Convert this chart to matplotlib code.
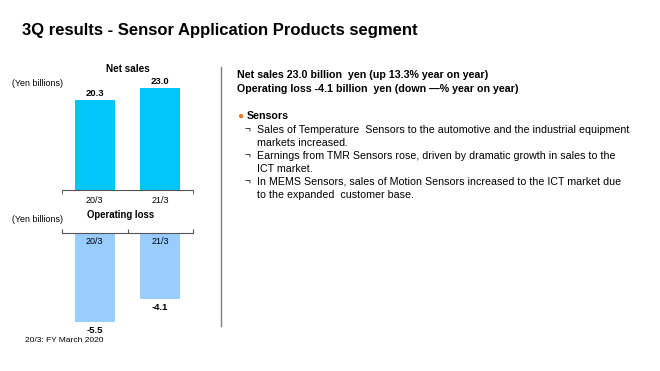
import matplotlib
matplotlib.use("Agg")
import matplotlib.pyplot as plt

plt.rcParams['font.family'] = ['Liberation Sans', 'DejaVu Sans']

periods = ["20/3", "21/3"]
net_sales = [20.3, 23.0]
op_loss = [-5.5, -4.1]

headline = ["Net sales 23.0 billion  yen (up 13.3% year on year)",
            "Operating loss -4.1 billion  yen (down \u2014% year on year)"]
bullet_title = "Sensors"
bullet_lines = [
    ("\u00ac", "Sales of Temperature  Sensors to the automotive and the industrial equipment"),
    ("", "markets increased."),
    ("\u00ac", "Earnings from TMR Sensors rose, driven by dramatic growth in sales to the"),
    ("", "ICT market."),
    ("\u00ac", "In MEMS Sensors, sales of Motion Sensors increased to the ICT market due"),
    ("", "to the expanded  customer base."),
]

W, H = 660, 371
fig = plt.figure(figsize=(6.6, 3.71), dpi=100)

def fx(px):
    return px / W

def fy(py):
    return 1 - py / H

fig.text(fx(22), fy(30), "3Q results - Sensor Application Products segment",
         fontsize=12, fontweight="bold", va="center", ha="left")

x = range(len(periods))

# net sales
ax1 = fig.add_axes([fx(62), fy(190), fx(131), (190 - 75) / H])
ax1.bar(x, net_sales, width=0.61, color="#00C6F7")
ax1.set_xlim(-0.5, 1.5)
ax1.set_ylim(0, 26)
for i, v in zip(x, net_sales):
    ax1.text(i, v + 0.6, f"{v:.1f}", ha="center", va="bottom", fontsize=6.8, fontweight="bold")
ax1.set_xticks(list(x))
ax1.set_xticklabels(periods, fontsize=6.5)
ax1.tick_params(axis="x", length=0, pad=4)
ax1.set_xticks([-0.5, 1.5], minor=True)
ax1.tick_params(axis="x", which="minor", length=3, color="#555555")
ax1.set_yticks([])
for s in ["top", "left", "right"]:
    ax1.spines[s].set_visible(False)
ax1.spines["bottom"].set_color("#555555")
ax1.set_title("Net sales", fontsize=7.2, fontweight="bold", pad=2)
fig.text(fx(12), fy(83), "(Yen billions)", fontsize=6.4, va="center")

# operating loss
ax2 = fig.add_axes([fx(62), fy(330), fx(131), (330 - 233) / H])
ax2.bar(x, op_loss, width=0.61, color="#99CCFF")
ax2.set_xlim(-0.5, 1.5)
ax2.set_ylim(-6, 0)
for i, v in zip(x, op_loss):
    ax2.text(i, v - 0.25, f"{v:.1f}", ha="center", va="top", fontsize=6.8, fontweight="bold", clip_on=False)
    ax2.text(i, -0.25, periods[i], ha="center", va="top", fontsize=6.5)
ax2.set_xticks([-0.5, 0.5, 1.5])
ax2.set_xticklabels([])
ax2.tick_params(axis="x", direction="out", length=3, color="#555555", top=True, bottom=False)
ax2.set_yticks([])
for s in ["bottom", "left", "right"]:
    ax2.spines[s].set_visible(False)
ax2.spines["top"].set_color("#555555")
fig.text(fx(121), fy(215), "Operating loss", fontsize=6.9, fontweight="bold", ha="center", va="center")
fig.text(fx(12), fy(220), "(Yen billions)", fontsize=6.4, va="center")

fig.text(fx(25), fy(341), "20/3: FY March 2020", fontsize=6, va="center")

# divider
fig.add_artist(plt.Line2D([fx(221), fx(221)], [fy(67), fy(326)], color="#7f7f7f", lw=1))

# right text
fig.text(fx(237), fy(75), headline[0], fontsize=7.7, fontweight="bold", va="center")
fig.text(fx(237), fy(89), headline[1], fontsize=7.7, fontweight="bold", va="center")
fig.text(fx(237.5), fy(116), "\u25cf", fontsize=7.5, color="#E87722", va="center")
fig.text(fx(247), fy(116), bullet_title, fontsize=7.7, fontweight="bold", va="center")
for k, (mark, line) in enumerate(bullet_lines):
    yy = 130 + 13 * k
    if mark:
        fig.text(fx(245), fy(yy), mark, fontsize=7.2, va="center")
    fig.text(fx(257), fy(yy), line, fontsize=7.7, va="center")

fig.savefig("out.png", dpi=100)
